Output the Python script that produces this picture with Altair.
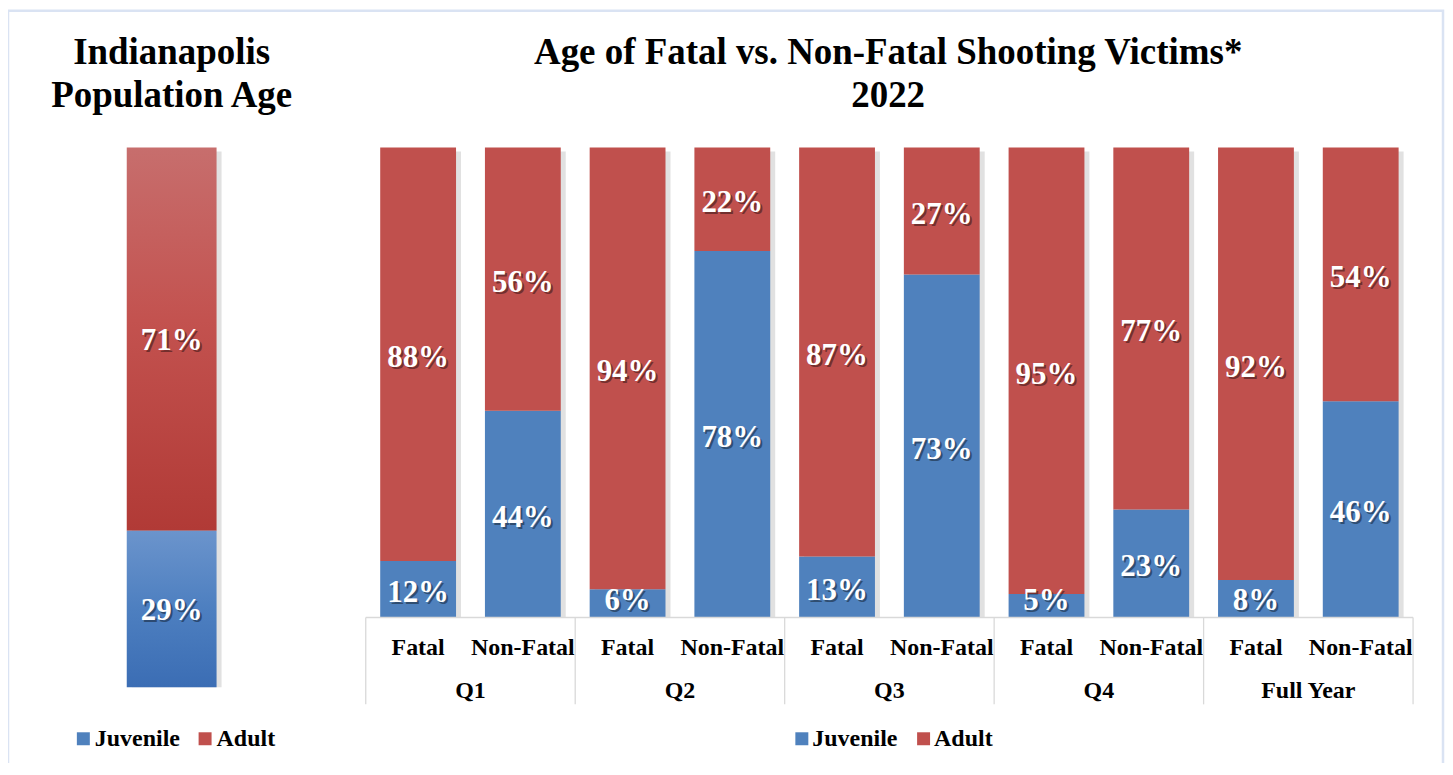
import altair as alt
import pandas as pd

# ---------------- data ----------------
quarters = ["Q1", "Q2", "Q3", "Q4", "Full Year"]
victim_types = ["Fatal", "Non-Fatal"]
juvenile_pct = [12, 44, 6, 78, 13, 73, 5, 23, 8, 46]
adult_pct = [88, 56, 94, 22, 87, 27, 95, 77, 92, 54]
age_groups = ["Juvenile", "Adult"]
pop_juvenile_pct = [29]
pop_adult_pct = [71]
colors = ["#4f81bd", "#c0504d"]

FONT = "Liberation Serif"

rows = []
i = 0
for q in quarters:
    for t in victim_types:
        key = f"{q}|{t}"
        rows.append(dict(key=key, quarter=q, vtype=t, age="Juvenile", order=0, pct=juvenile_pct[i]))
        rows.append(dict(key=key, quarter=q, vtype=t, age="Adult", order=1, pct=adult_pct[i]))
        i += 1
df = pd.DataFrame(rows)
keys = list(dict.fromkeys(df["key"]))
type_df = df.drop_duplicates("key")[["key", "vtype"]]

pop_df = pd.DataFrame([
    dict(bar="Population", age="Juvenile", order=0, pct=pop_juvenile_pct[0]),
    dict(bar="Population", age="Adult", order=1, pct=pop_adult_pct[0]),
])

one = pd.DataFrame({"a": [0]})

# ---------------- right panel ----------------
xr = alt.X("key:N", scale=alt.Scale(domain=keys, range=[358.5, 1408],
                                    paddingInner=0.276, paddingOuter=0.138), axis=None)
yr_scale = alt.Scale(domain=[0, 100], range=[610, 139])

# labels are centred in their segment, but kept inside the bar for tiny segments
rbase = alt.Chart(df).transform_stack(
    stack="pct", groupby=["key"], as_=["y0", "y1"], sort=[alt.SortField("order")]
).transform_calculate(mid="max((datum.y0 + datum.y1) / 2, 4.3)", lbl="datum.pct + '%'")

r_shadow = alt.Chart(df).transform_aggregate(
    total="sum(pct)", groupby=["key"]
).mark_bar(color="#9a9a9a", opacity=0.3, xOffset=5, yOffset=4).encode(
    x=xr, y=alt.Y("total:Q", scale=yr_scale, axis=None), y2=alt.datum(0))
r_bars = rbase.mark_bar().encode(
    x=xr, y=alt.Y("y1:Q", scale=yr_scale, axis=None), y2="y0:Q",
    color=alt.Color("age:N", scale=alt.Scale(domain=age_groups, range=colors), legend=None))
r_lbl_sh = rbase.mark_text(font=FONT, fontSize=31, fontWeight="bold", color="#000000",
                           opacity=0.4, baseline="middle", dx=2, dy=6).encode(
    x=xr, y=alt.Y("mid:Q", scale=yr_scale, axis=None), text="lbl:N")
r_lbl = rbase.mark_text(font=FONT, fontSize=31, fontWeight="bold", color="white",
                        baseline="middle", dy=4).encode(
    x=xr, y=alt.Y("mid:Q", scale=yr_scale, axis=None), text="lbl:N")
r_types = alt.Chart(type_df).mark_text(font=FONT, fontSize=24, fontWeight="bold",
                                       color="black", baseline="alphabetic").encode(
    x=xr, y=alt.value(648), text="vtype:N")

bars_group = alt.layer(r_shadow, r_bars, r_lbl_sh, r_lbl, r_types)

q_df = pd.DataFrame({"quarter": quarters, "qi": list(range(len(quarters)))})
q_df["qc"] = q_df["qi"] + 0.5
b_df = pd.DataFrame({"b": list(range(len(quarters) + 1))})
qscale = alt.Scale(domain=[0, len(quarters)], range=[358.5, 1408], nice=False, zero=False)

sep_rules = alt.Chart(b_df).mark_rule(color="#d9d9d9", strokeWidth=1.3).encode(
    x=alt.X("b:Q", scale=qscale, axis=None), y=alt.value(610), y2=alt.value(697))
axis_line = alt.Chart(one).mark_rule(color="#d9d9d9", strokeWidth=1.3).encode(
    x=alt.X("x0:Q", scale=qscale, axis=None), x2="x1:Q", y=alt.value(610)
).transform_calculate(x0="0", x1=str(len(quarters)))
q_labels = alt.Chart(q_df).mark_text(font=FONT, fontSize=24, fontWeight="bold",
                                     color="black", baseline="alphabetic").encode(
    x=alt.X("qc:Q", scale=qscale, axis=None), y=alt.value(691), text="quarter:N")
quarter_group = alt.layer(sep_rules, axis_line, q_labels)

right_panel = alt.layer(bars_group, quarter_group).resolve_scale(x="independent")

# ---------------- left panel ----------------
xl = alt.X("bar:N", scale=alt.Scale(range=[119, 209], paddingInner=0, paddingOuter=0), axis=None)
yl_scale = alt.Scale(domain=[0, 100], range=[680, 139])

lbase = alt.Chart(pop_df).transform_stack(
    stack="pct", groupby=["bar"], as_=["y0", "y1"], sort=[alt.SortField("order")]
).transform_calculate(mid="(datum.y0 + datum.y1) / 2", lbl="datum.pct + '%'")

grad_adult = alt.Gradient(gradient="linear", x1=0, x2=0, y1=0, y2=1, stops=[
    alt.GradientStop(color="#c76e6d", offset=0),
    alt.GradientStop(color="#c3524f", offset=0.45),
    alt.GradientStop(color="#b13a36", offset=1)])
grad_juv = alt.Gradient(gradient="linear", x1=0, x2=0, y1=0, y2=1, stops=[
    alt.GradientStop(color="#6b94cc", offset=0),
    alt.GradientStop(color="#4d7fc0", offset=0.5),
    alt.GradientStop(color="#3b6db4", offset=1)])

l_shadow = alt.Chart(pop_df).transform_aggregate(
    total="sum(pct)", groupby=["bar"]
).mark_bar(color="#9a9a9a", opacity=0.3, xOffset=5, yOffset=4).encode(
    x=xl, y=alt.Y("total:Q", scale=yl_scale, axis=None), y2=alt.datum(0))
l_adult = lbase.transform_filter(alt.datum.age == "Adult").mark_bar(color=grad_adult).encode(
    x=xl, y=alt.Y("y1:Q", scale=yl_scale, axis=None), y2="y0:Q")
l_juv = lbase.transform_filter(alt.datum.age == "Juvenile").mark_bar(color=grad_juv).encode(
    x=xl, y=alt.Y("y1:Q", scale=yl_scale, axis=None), y2="y0:Q")
l_lbl_sh = lbase.mark_text(font=FONT, fontSize=31, fontWeight="bold", color="#000000",
                           opacity=0.4, baseline="middle", dx=2, dy=4).encode(
    x=xl, y=alt.Y("mid:Q", scale=yl_scale, axis=None), text="lbl:N")
l_lbl = lbase.mark_text(font=FONT, fontSize=31, fontWeight="bold", color="white",
                        baseline="middle", dy=2).encode(
    x=xl, y=alt.Y("mid:Q", scale=yl_scale, axis=None), text="lbl:N")
left_panel = alt.layer(l_shadow, l_adult, l_juv, l_lbl_sh, l_lbl)

# ---------------- titles, legends, border ----------------
def text_mark(txt, x, y, size, align="center", baseline="alphabetic"):
    return alt.Chart(one).mark_text(font=FONT, fontSize=size, fontWeight="bold", color="black",
                                    align=align, baseline=baseline).encode(
        x=alt.value(x), y=alt.value(y), text=alt.value(txt))

titles = [
    text_mark("Indianapolis", 164, 55, 37),
    text_mark("Population Age", 164, 98, 37),
    text_mark("Age of Fatal vs. Non-Fatal Shooting Victims*", 882, 55, 37),
    text_mark("2022", 882, 98, 37),
]

def legend_square(x0, color):
    return alt.Chart(one).mark_rect(color=color).encode(
        x=alt.value(x0), x2=alt.value(x0 + 13), y=alt.value(725), y2=alt.value(738))

legends = [
    legend_square(69, colors[0]), text_mark(age_groups[0], 87, 738.5, 24, align="left"),
    legend_square(191, colors[1]), text_mark(age_groups[1], 209, 738.5, 24, align="left"),
    legend_square(789, colors[0]), text_mark(age_groups[0], 806, 738.5, 24, align="left"),
    legend_square(911, colors[1]), text_mark(age_groups[1], 928, 738.5, 24, align="left"),
]

border = alt.Chart(one).mark_rect(fill=None, stroke="#dae3f3", strokeWidth=2.5).encode(
    x=alt.value(0), x2=alt.value(1438), y=alt.value(2), y2=alt.value(790))

chart = alt.layer(border, left_panel, right_panel, *titles, *legends).resolve_scale(
    x="independent", y="independent"
).properties(
    width=1440, height=755, padding=0, autosize=alt.AutoSizeParams(type="none")
).configure_view(stroke=None)

chart.save("out.html", embed_options={"renderer": "svg", "actions": False})
